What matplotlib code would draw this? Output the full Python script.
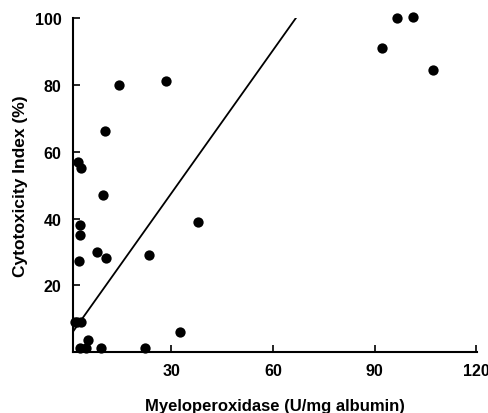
import matplotlib
matplotlib.use("Agg")
import matplotlib.pyplot as plt
import numpy as np

# 読み取った値
mpo = [14.5, 28.3, 10.3, 2.5, 3.4, 9.8, 2.9, 3.1, 7.9, 10.7, 2.7, 23.4, 37.9,
       1.6, 2.0, 3.2, 5.4, 3.1, 4.7, 9.2, 22.1, 32.4,
       92.2, 96.6, 101.3, 107.2]
cytotox = [80.0, 81.2, 66.1, 57.0, 55.0, 47.1, 38.1, 35.1, 30.0, 28.2, 27.2, 29.0, 39.1,
           9.1, 9.1, 9.1, 3.6, 1.3, 1.3, 1.1, 1.3, 6.1,
           91.1, 100.1, 100.3, 84.3]

# 回帰直線
line_x = [0.9, 67.1]
intercept = 4.8
slope = 1.427

x_ticks = [30, 60, 90, 120]
y_ticks = [20, 40, 60, 80, 100]

plt.rcParams['font.family'] = ['Liberation Sans', 'DejaVu Sans']

fig = plt.figure(figsize=(4.89, 4.14), dpi=100)
ax = fig.add_axes([0.149, 0.147, 0.826, 0.807])

ax.scatter(mpo, cytotox, s=55, color='black', zorder=3, linewidths=0, clip_on=False)
lx = np.array(line_x)
ax.plot(lx, intercept + slope * lx, color='black', linewidth=1.3)

ax.set_xlim(0.9, 120.1)
ax.set_ylim(0, 100)
ax.set_xticks(x_ticks)
ax.set_yticks(y_ticks)
ax.tick_params(direction='in', length=5, width=1.2, labelsize=11.5, pad=8)
for lab in ax.get_xticklabels() + ax.get_yticklabels():
    lab.set_fontweight('bold')

ax.spines['top'].set_visible(False)
ax.spines['right'].set_visible(False)
ax.spines['left'].set_linewidth(1.5)
ax.spines['bottom'].set_linewidth(1.5)

ax.set_xlabel('Myeloperoxidase (U/mg albumin)', fontsize=12, fontweight='bold', labelpad=14)
ax.set_ylabel('Cytotoxicity Index (%)', fontsize=12.5, fontweight='bold', labelpad=5)

plt.savefig('out.png', dpi=100)
plt.close()
